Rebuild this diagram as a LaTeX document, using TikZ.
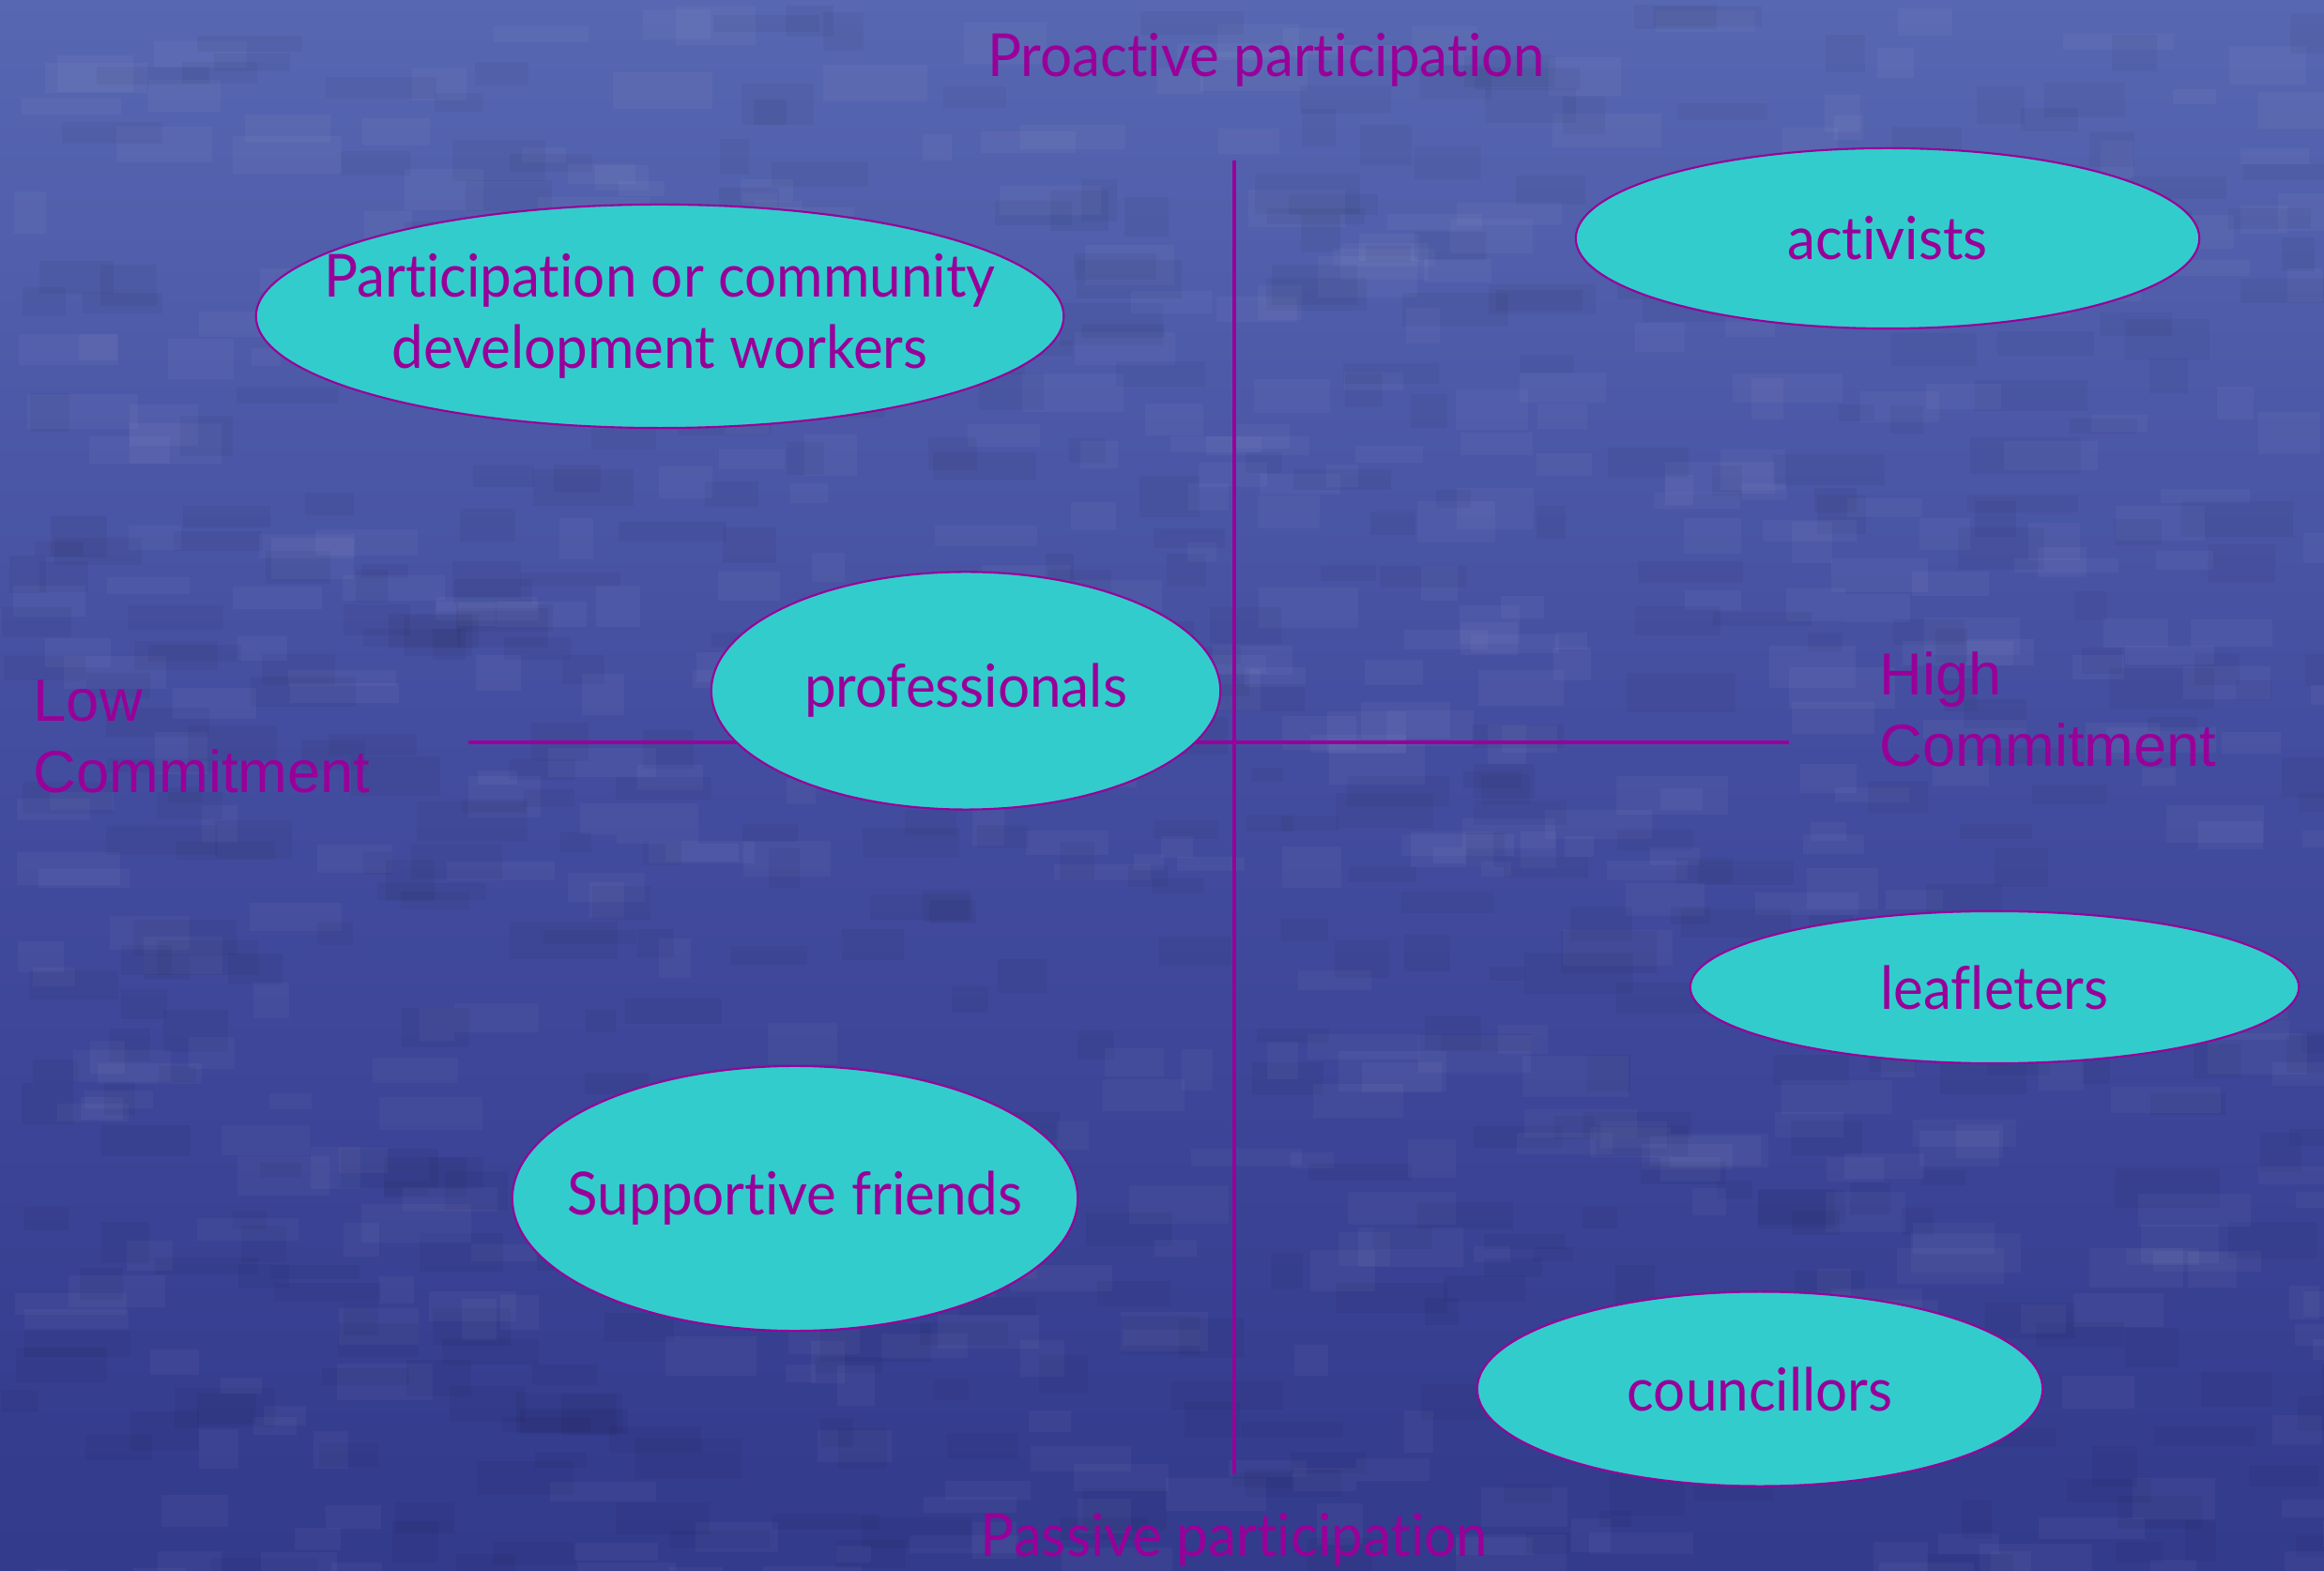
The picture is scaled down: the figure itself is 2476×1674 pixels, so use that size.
\documentclass[tikz,border=0pt]{standalone}
\usepackage{fontspec}
\usetikzlibrary{shapes.geometric}

\newfontfamily\handfont[FakeStretch=0.95, Ligatures=NoCommon]{Lato}
\newfontfamily\plainsans{Liberation Sans}

\definecolor{tissue-top}{RGB}{138,148,194}
\definecolor{tissue-high}{RGB}{110,124,192}
\definecolor{tissue-up}{RGB}{88,104,178}
\definecolor{tissue-mid}{RGB}{68,78,160}
\definecolor{tissue-low}{RGB}{52,60,142}
\definecolor{tissue-bot}{RGB}{42,52,132}
\definecolor{plum}{RGB}{153,0,153}
\definecolor{turquoise}{RGB}{51,204,204}

\pgfdeclareverticalshading{tissue}{100bp}{color(0bp)=(tissue-bot); color(28bp)=(tissue-low);
  color(52bp)=(tissue-mid); color(76bp)=(tissue-up); color(91bp)=(tissue-high); color(100bp)=(tissue-top)}

\begin{document}
\begin{tikzpicture}[x=0.01cm, y=-0.01cm,
      group-ellipse/.style={ellipse, draw=plum, line width=0.6pt, fill=turquoise, inner sep=0pt},
      group-text/.style={text=plum, align=center, inner sep=0pt, font=\handfont\fontsize{18}{21.6}\selectfont},
      axis-label/.style={text=plum, inner sep=0pt, font=\handfont\fontsize{18}{21.6}\selectfont},
      commit-label/.style={text=plum, align=left, inner sep=0pt, font=\plainsans\fontsize{18}{21.6}\selectfont},
      axis-line/.style={draw=plum, line width=0.9pt}
    ]
      \useasboundingbox (0,0) rectangle (2476,1674);
      \shade[shading=tissue] (0,0) rectangle (2476,1674);
      \pgfmathsetseed{42}
      \foreach \k in {1,...,500}{
        \pgfmathsetmacro{\bx}{rnd*2476}
        \pgfmathsetmacro{\by}{rnd*1674}
        \pgfmathsetmacro{\bw}{30+rnd*90}
        \pgfmathsetmacro{\bh}{15+rnd*30}
        \fill[white, opacity=0.035] (\bx,\by) rectangle ++(\bw,\bh);
      }
      \foreach \k in {1,...,500}{
        \pgfmathsetmacro{\bx}{rnd*2476}
        \pgfmathsetmacro{\by}{rnd*1674}
        \pgfmathsetmacro{\bw}{30+rnd*90}
        \pgfmathsetmacro{\bh}{15+rnd*30}
        \fill[black, opacity=0.04] (\bx,\by) rectangle ++(\bw,\bh);
      }

      \coordinate (v-top) at (1315,171);
      \coordinate (v-bot) at (1315,1571);
      \coordinate (h-left) at (499,791);
      \coordinate (h-right) at (1906,791);
      \draw[axis-line] (v-top) -- (v-bot);
      \draw[axis-line] (h-left) -- (h-right);

      \node[axis-label, anchor=base] (proactive) at (1349,82) {Proactive participation};
      \node[axis-label, anchor=base] (passive) at (1315,1658) {Passive participation};
      \node[commit-label, anchor=north west] (low) at (35,724) {Low\\Commitment};
      \node[commit-label, anchor=north west] (high) at (2002,694) {High\\Commitment};

      \node[group-ellipse, minimum width=8.6cm, minimum height=2.38cm,
        label={[group-text]center:Participation or community\\development workers}] (workers) at (703,337) {};
      \node[group-ellipse, minimum width=6.64cm, minimum height=1.92cm,
        label={[group-text]center:activists}] (activists) at (2011,254) {};
      \node[group-ellipse, minimum width=5.42cm, minimum height=2.53cm,
        label={[group-text]center:professionals}] (professionals) at (1029,736) {};
      \node[group-ellipse, minimum width=6.48cm, minimum height=1.62cm,
        label={[group-text]center:leafleters}] (leafleters) at (2125,1052) {};
      \node[group-ellipse, minimum width=6.02cm, minimum height=2.82cm,
        label={[group-text]center:Supportive friends}] (friends) at (847,1277) {};
      \node[group-ellipse, minimum width=6.02cm, minimum height=2.07cm,
        label={[group-text]center:councillors}] (councillors) at (1875,1480) {};
\end{tikzpicture}
\end{document}
